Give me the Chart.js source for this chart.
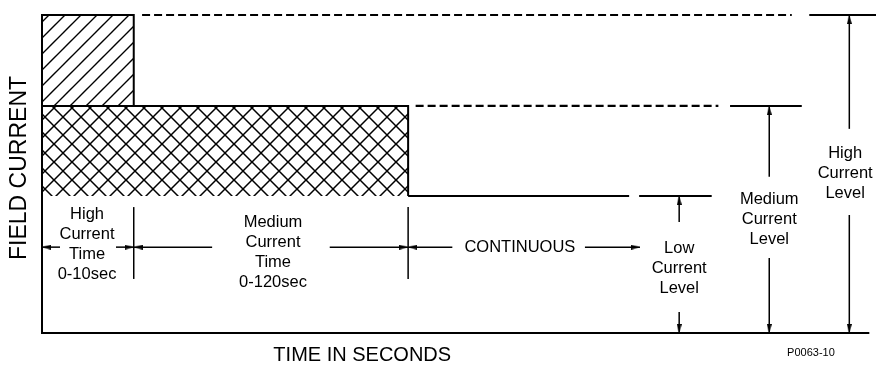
<!DOCTYPE html>
<html>
<head>
<meta charset="utf-8">
<script src="https://cdn.jsdelivr.net/npm/chart.js@4.4.1/dist/chart.umd.min.js"></script>
<style>
html,body{margin:0;padding:0;background:#fff;}
#wrap{width:876px;height:371px;position:relative;}
</style>
</head>
<body>
<div id="wrap"><canvas id="c"></canvas></div>
<script>
// Schematic units (not to scale): time 0–100 along x, field current 0–100 along y
const lowLevel = 43.1;
const mediumLevel = 71.4;
const highLevel = 100;
const highTimeEnd = 11;      // end of "High Current Time 0-10sec"
const mediumTimeEnd = 43.9;  // end of "Medium Current Time 0-120sec"
const axisEnd = 99.2;

// dashed continuations of the high / medium levels [xFrom, xTo, level]
const dashedLevels = [[12, 89.9, highLevel], [44.8, 81.1, mediumLevel]];
// solid level reference lines [xFrom, xTo, level]
const solidLevels = [
  [43.9, 70.4, lowLevel], [71.6, 80.3, lowLevel],
  [82.5, 91.1, mediumLevel], [92, 100, highLevel]
];
// vertical dimension arrows [x, tail, tip]
const levelArrows = [
  [96.8, 64.2, highLevel], [96.8, 37.1, 0],
  [87.2, 49.1, mediumLevel], [87.2, 23.6, 0],
  [76.4, 34.9, lowLevel], [76.4, 6.6, 0]
];
// horizontal time arrows at y = timeArrowY [tail, tip]
const timeArrowY = 27;
const timeArrows = [[2.16, 0], [8.87, highTimeEnd], [20.4, highTimeEnd], [34.5, mediumTimeEnd], [49.2, mediumTimeEnd], [65.1, 71.7]];
// tick marks at the time boundaries [x, yFrom, yTo]
const timeTicks = [[highTimeEnd, 17, 39.6], [mediumTimeEnd, 17, 39.6]];

// text labels
const labelTexts = [
  ["High", "Current", "Time", "0-10sec"],
  ["Medium", "Current", "Time", "0-120sec"],
  ["CONTINUOUS"],
  ["High", "Current", "Level"],
  ["Medium", "Current", "Level"],
  ["Low", "Current", "Level"]
];
const labelAnchors = [[5.4, 27.7], [27.7, 25.2], [57.3, 27.0], [96.3, 50.3], [87.2, 35.8], [76.4, 20.4]];
const xTitle = "TIME IN SECONDS";
const yTitle = "FIELD CURRENT";
const figureId = "P0063-10";

// ---------- patterns & arrowheads ----------
function hatchPattern() {
  const t = 16, c = document.createElement('canvas');
  c.width = t; c.height = t;
  const g = c.getContext('2d');
  g.strokeStyle = '#000'; g.lineWidth = 1.4;
  g.beginPath();
  g.moveTo(-2, t + 2); g.lineTo(t + 2, -2);
  g.moveTo(-2, 2); g.lineTo(2, -2);
  g.moveTo(t - 2, t + 2); g.lineTo(t + 2, t - 2);
  g.stroke();
  return g.createPattern(c, 'repeat');
}
function crossPattern() {
  const t = 18, c = document.createElement('canvas');
  c.width = t; c.height = t;
  const g = c.getContext('2d');
  g.strokeStyle = '#000'; g.lineWidth = 1.5;
  g.beginPath();
  g.moveTo(-2, t + 2); g.lineTo(t + 2, -2);
  g.moveTo(-2, -2); g.lineTo(t + 2, t + 2);
  g.stroke();
  return g.createPattern(c, 'repeat');
}
function arrowHead() {
  const w = 5, h = 18, c = document.createElement('canvas');
  c.width = w; c.height = h;
  const g = c.getContext('2d');
  g.fillStyle = '#000';
  g.beginPath();
  g.moveTo(w / 2, h / 2); g.lineTo(w, h); g.lineTo(0, h); g.closePath();
  g.fill();
  return c;
}
const arrowImg = arrowHead();

const datasets = [];
const lineBase = {showLine: true, tension: 0, pointRadius: 0, borderColor: '#000', fill: false, clip: false};

// high current block (single hatch)
datasets.push(Object.assign({}, lineBase, {
  data: [{x: 0, y: mediumLevel}, {x: 0, y: highLevel}, {x: highTimeEnd, y: highLevel}, {x: highTimeEnd, y: mediumLevel}],
  borderWidth: 2, fill: {value: mediumLevel}, backgroundColor: hatchPattern()
}));
// medium current block (cross hatch)
datasets.push(Object.assign({}, lineBase, {
  data: [{x: 0, y: lowLevel}, {x: 0, y: mediumLevel}, {x: mediumTimeEnd, y: mediumLevel}, {x: mediumTimeEnd, y: lowLevel}],
  borderWidth: 2, fill: {value: lowLevel}, backgroundColor: crossPattern()
}));
// axes
datasets.push(Object.assign({}, lineBase, {data: [{x: 0, y: highLevel}, {x: 0, y: 0}, {x: axisEnd, y: 0}], borderWidth: 2}));
// dashed levels
dashedLevels.forEach(d => datasets.push(Object.assign({}, lineBase, {
  data: [{x: d[0], y: d[2]}, {x: d[1], y: d[2]}], borderWidth: 2.2, borderDash: [8, 4]
})));
// solid levels
solidLevels.forEach(d => datasets.push(Object.assign({}, lineBase, {
  data: [{x: d[0], y: d[2]}, {x: d[1], y: d[2]}], borderWidth: 2
})));
// ticks
timeTicks.forEach(d => datasets.push(Object.assign({}, lineBase, {
  data: [{x: d[0], y: d[1]}, {x: d[0], y: d[2]}], borderWidth: 1.5
})));
// arrows
function arrowSet(p0, p1, rot) {
  return Object.assign({}, lineBase, {
    data: [p0, p1], borderWidth: 1.5,
    pointRadius: [0, 4], pointStyle: [false, arrowImg], pointRotation: [0, rot]
  });
}
levelArrows.forEach(a => datasets.push(arrowSet({x: a[0], y: a[1]}, {x: a[0], y: a[2]}, a[2] > a[1] ? 0 : 180)));
timeArrows.forEach(a => datasets.push(arrowSet({x: a[0], y: timeArrowY}, {x: a[1], y: timeArrowY}, a[1] > a[0] ? 90 : 270)));

const FONT = '"Liberation Sans", Arial, Helvetica, sans-serif';
const textPlugin = {
  id: 'texts',
  afterDatasetsDraw(chart) {
    const {ctx, scales: {x, y}} = chart;
    ctx.save();
    ctx.fillStyle = '#000';
    ctx.textAlign = 'center';
    ctx.textBaseline = 'middle';
    ctx.font = '16.5px ' + FONT;
    labelTexts.forEach((lines, i) => {
      const cx = x.getPixelForValue(labelAnchors[i][0]);
      const cy = y.getPixelForValue(labelAnchors[i][1]);
      const lh = 20, top = cy - (lines.length - 1) * lh / 2;
      lines.forEach((s, j) => ctx.fillText(s, cx, top + j * lh));
    });
    ctx.font = '20px ' + FONT;
    ctx.fillText(xTitle, x.getPixelForValue(38.4), y.getPixelForValue(-7.2));
    ctx.font = '11px ' + FONT;
    ctx.fillText(figureId, x.getPixelForValue(92.2), y.getPixelForValue(-6.3));
    ctx.translate(x.getPixelForValue(-2.64), y.getPixelForValue(51.9));
    ctx.rotate(-Math.PI / 2);
    ctx.font = '23px ' + FONT;
    ctx.fillText(yTitle, 0, 0);
    ctx.restore();
  }
};

new Chart(document.getElementById('c'), {
  type: 'scatter',
  data: {datasets},
  options: {
    responsive: true, maintainAspectRatio: false, animation: false,
    layout: {padding: 0, autoPadding: false},
    plugins: {legend: {display: false}, tooltip: {enabled: false}},
    events: [],
    scales: {
      x: {type: 'linear', display: false, min: -5.036, max: 100},
      y: {type: 'linear', display: false, min: -11.95, max: 104.72}
    }
  },
  plugins: [textPlugin]
});
</script>
</body>
</html>
